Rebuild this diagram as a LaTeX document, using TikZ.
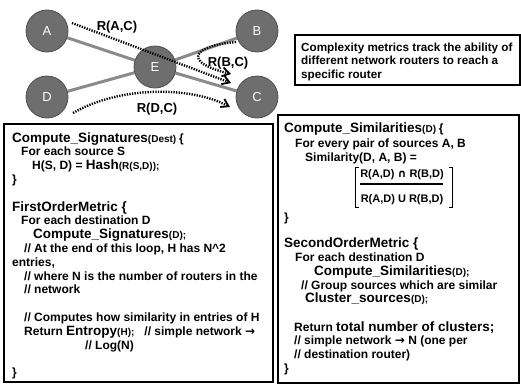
\documentclass[tikz,border=0pt]{standalone}
\usepackage{fontspec}
\setmainfont{Liberation Sans}
\newfontfamily\symfont{DejaVu Sans}
\usetikzlibrary{arrows.meta,backgrounds}
\definecolor{nodefill}{HTML}{6E6E6E}
\definecolor{nodeline}{HTML}{4E4E4E}
\definecolor{edgegray}{HTML}{8A8A8A}
\newcommand\bigtx{\fontsize{13.5}{14}\selectfont}
\newcommand\smtx{\fontsize{10}{12}\selectfont}
\newcommand\nmtx{\fontsize{12}{14}\selectfont}
\newcommand\rarr{{\symfont\bfseries →}}
\tikzset{
  router/.style={circle, fill=nodefill, draw=nodeline, line width=0.8pt, minimum size=42pt, inner sep=0pt, text=white, font=\fontsize{13}{13}\selectfont},
  link/.style={draw=edgegray, line width=3pt},
  route/.style={line width=2.4pt, dash pattern=on 1.3pt off 1.3pt, -{Straight Barb[length=7pt,width=9pt,line width=1.8pt]}},
  rlabel/.style={inner sep=0pt, font=\bfseries\fontsize{13}{13}\selectfont},
  code/.style={anchor=base west, inner sep=0pt, font=\bfseries\nmtx},
  panel/.style={draw=black, line width=1.3pt, inner sep=0pt},
}
\begin{document}
\begin{tikzpicture}[x=1pt,y=-1pt]
\useasboundingbox (0,0) rectangle (521,388);
% network
\node[router] (A) at (47,31) {A};
\node[router] (B) at (257,31) {B};
\node[router] (E) at (155,67) {E};
\node[router] (D) at (47,97) {D};
\node[router] (C) at (257,97) {C};
\begin{scope}[on background layer]
  \draw[link] (A) -- (E);
  \draw[link] (E) -- (C);
  \draw[link] (D) -- (E);
  \draw[link] (E) -- (B);
\end{scope}
\coordinate (ac1) at (72,23);
\coordinate (ac2) at (231,83);
\coordinate (bc1) at (236,42);
\coordinate (bc2) at (231,74);
\coordinate (dc1) at (73,113);
\coordinate (dc2) at (230,107);
\draw[route] (ac1) -- (ac2);
\draw[route] (bc1) .. controls (192,46) and (182,62) .. (bc2);
\draw[route] (dc1) .. controls (120,86) and (190,86) .. (dc2);
\node[rlabel] (lac) at (117,27) {R(A,C)};
\node[rlabel] (lbc) at (228,63) {R(B,C)};
\node[rlabel] (ldc) at (157,109) {R(D,C)};
% note
\node[panel, minimum width=225pt, minimum height=50pt] (note) at (407.5,60) {};
\node[anchor=west, inner sep=0pt, align=left, font=\bfseries\fontsize{11.7}{13.5}\selectfont] (notetext) at (301,61.5) {Complexity metrics track the ability of\\ different network routers to reach a\\ specific router};
% panels
\node[panel, minimum width=269pt, minimum height=258pt] (lbox) at (138.5,253) {};
\node[panel, minimum width=241pt, minimum height=268pt] (rbox) at (398.5,249) {};
% left code
\node[code] (l1) at (12,142) {\bigtx Compute\_Signatures\smtx(Dest) \nmtx\{};
\node[code] (l2) at (21,155.8) {For each source S};
\node[code] (l3) at (32,169.6) {H(S, D) = \bigtx Hash\smtx(R(S,D));};
\node[code] (l4) at (12,183.4) {\}};
\node[code] (l5) at (12,211) {\bigtx FirstOrderMetric \{};
\node[code] (l6) at (21,224.8) {For each destination D};
\node[code] (l7) at (33,238.6) {\bigtx Compute\_Signatures\smtx(D);};
\node[code] (l8) at (24,252.4) {// At the end of this loop, H has N\^{}2};
\node[code] (l9) at (12,266.2) {entries,};
\node[code] (l10) at (24,280) {// where N is the number of routers in the};
\node[code] (l11) at (24,293.8) {// network};
\node[code] (l12) at (24,321.4) {// Computes how similarity in entries of H};
\node[code] (l13) at (24,335.2) {Return \bigtx Entropy\smtx(H);\nmtx\ \ \ // simple network \rarr};
\node[code] (l14) at (85,349) {// Log(N)};
\node[code] (l15) at (12,376.6) {\}};
% right code
\node[code] (r1) at (284,132) {\bigtx Compute\_Similarities\smtx(D) \nmtx\{};
\node[code] (r2) at (295,147) {For every pair of sources A, B};
\node[code] (r3) at (305,161) {Similarity(D, A, B) =};
\node[code, anchor=base, font=\bfseries\fontsize{11}{13}\selectfont] (num) at (402,177) {R(A,D) {\symfont\bfseries ∩} R(B,D)};
\node[code, anchor=base, font=\bfseries\fontsize{11}{13}\selectfont] (den) at (402,202) {R(A,D) U R(B,D)};
\draw[line width=1.5pt] (360,184) -- (443,184);
\draw[line width=0.9pt] (358.5,167) -- (355,167) -- (355,207) -- (358.5,207);
\draw[line width=0.9pt] (448.5,167) -- (452,167) -- (452,207) -- (448.5,207);
\node[code] (r4) at (284,221) {\}};
\node[code] (r5) at (284,247) {\bigtx SecondOrderMetric \{};
\node[code] (r6) at (295,261) {For each destination D};
\node[code] (r7) at (314,275) {\bigtx Compute\_Similarities\smtx(D);};
\node[code] (r8) at (301,289) {// Group sources which are similar};
\node[code] (r9) at (305,302) {\bigtx Cluster\_sources\smtx(D);};
\node[code] (r10) at (294,331) {Return \bigtx total number of clusters;};
\node[code] (r11) at (294,344) {// simple network \rarr\ N (one per};
\node[code] (r12) at (294,358) {// destination router)};
\node[code] (r13) at (284,372) {\}};
\end{tikzpicture}
\end{document}
